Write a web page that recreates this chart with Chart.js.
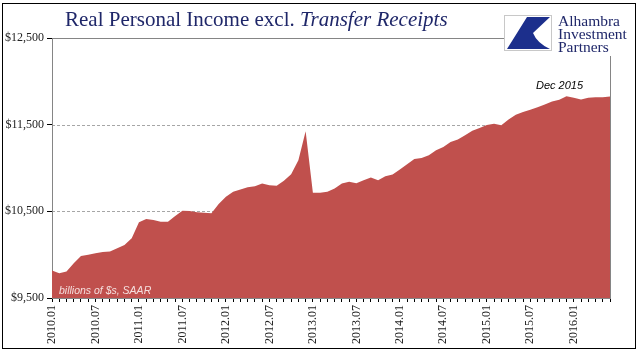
<!DOCTYPE html>
<html lang="en">
<head>
    <meta charset="UTF-8">
    <title>Real Personal Income excl. Transfer Receipts</title>
    <script src="https://cdn.jsdelivr.net/npm/chart.js@4.4.0/dist/chart.umd.min.js"></script>
    <style>
        body { margin: 0; background: #fff; }
        #wrap { position: relative; width: 641px; height: 358px; overflow: hidden; }
        #frame { position: absolute; left: 2px; top: 3px; width: 632px; height: 344px; border: 1.5px solid #000; }
        #title { position: absolute; left: 65px; top: 7px; font: 21px "Liberation Serif", serif; color: #1f2769; white-space: nowrap; }
        #logo { position: absolute; left: 504px; top: 12px; width: 130px; height: 44px; background: #fff; }
        #logo svg { position: absolute; left: 0; top: 3px; }
        #logoText { position: absolute; left: 54px; top: 2px; font: 15.5px/13px "Liberation Serif", serif; color: #1f2769; }
        .note { position: absolute; font-style: italic; font-family: "Liberation Sans", sans-serif; white-space: nowrap; }
        #units { left: 59px; top: 284px; font-size: 10.5px; color: #f4dedd; }
        #dec { left: 536px; top: 79px; font-size: 11px; color: #000; }
    </style>
</head>
<body>
<div id="wrap">
    <canvas id="chart" width="641" height="358"></canvas>
    <div id="frame"></div>
    <div id="title">Real Personal Income excl. <i>Transfer Receipts</i></div>
    <div id="logo">
        <svg width="48" height="36" viewBox="0 0 48 36">
            <rect x="0.5" y="0.5" width="47" height="35" fill="#fff" stroke="#c8c8c8"/>
            <path d="M23 2 L46 2 L29 18 Q33 28 46 34 L3 34 Z" fill="#1c2f8c"/>
        </svg>
        <div id="logoText">Alhambra<br>Investment<br>Partners</div>
    </div>
    <div class="note" id="units">billions of $s, SAAR</div>
    <div class="note" id="dec">Dec 2015</div>
</div>

<script>
    // monthly categories, 2010.01 - 2016.06
    const months = [
        '2010.01','2010.02','2010.03','2010.04','2010.05','2010.06','2010.07','2010.08','2010.09','2010.10','2010.11','2010.12',
        '2011.01','2011.02','2011.03','2011.04','2011.05','2011.06','2011.07','2011.08','2011.09','2011.10','2011.11','2011.12',
        '2012.01','2012.02','2012.03','2012.04','2012.05','2012.06','2012.07','2012.08','2012.09','2012.10','2012.11','2012.12',
        '2013.01','2013.02','2013.03','2013.04','2013.05','2013.06','2013.07','2013.08','2013.09','2013.10','2013.11','2013.12',
        '2014.01','2014.02','2014.03','2014.04','2014.05','2014.06','2014.07','2014.08','2014.09','2014.10','2014.11','2014.12',
        '2015.01','2015.02','2015.03','2015.04','2015.05','2015.06','2015.07','2015.08','2015.09','2015.10','2015.11','2015.12',
        '2016.01','2016.02','2016.03','2016.04','2016.05','2016.06'
    ];

    // billions of $, SAAR
    const income = [
        9817, 9787, 9806, 9900, 9986, 9998, 10017, 10032, 10036, 10075, 10112, 10190,
        10373, 10411, 10400, 10381, 10381, 10446, 10507, 10503, 10488, 10484, 10477, 10584,
        10668, 10725, 10752, 10779, 10790, 10822, 10800, 10796, 10853, 10929, 11090, 11423,
        10714, 10714, 10725, 10764, 10822, 10840, 10825, 10860, 10891, 10860, 10906, 10925,
        10983, 11044, 11105, 11116, 11147, 11205, 11243, 11300, 11328, 11377, 11431, 11461,
        11495, 11511, 11492, 11561, 11615, 11645, 11672, 11702, 11733, 11768, 11787, 11829,
        11810, 11791, 11810, 11817, 11817, 11825
    ];

    const yMin = 9500;
    const yMax = 12500;
    const yStep = 1000;
    const labelEvery = 6;

    // dashed gridlines + grey plot border, drawn under the area
    const plotFrame = {
        id: 'plotFrame',
        beforeDatasetsDraw(chart) {
            const { ctx, chartArea: a, scales: { y } } = chart;
            ctx.save();
            ctx.lineWidth = 1;
            ctx.strokeStyle = '#a6a6a6';
            ctx.setLineDash([3, 2]);
            y.ticks.forEach(t => {
                if (t.value <= yMin || t.value >= yMax) return;
                const py = Math.round(y.getPixelForValue(t.value)) + 0.5;
                ctx.beginPath();
                ctx.moveTo(a.left, py);
                ctx.lineTo(a.right, py);
                ctx.stroke();
            });
            ctx.setLineDash([]);
            ctx.strokeStyle = '#858585';
            ctx.strokeRect(Math.round(a.left) + 0.5, Math.round(a.top) + 0.5, Math.round(a.width), Math.round(a.height));
            ctx.restore();
        }
    };

    const tickFont = { family: '"Liberation Serif", serif', size: 12 };

    new Chart(document.getElementById('chart').getContext('2d'), {
        type: 'line',
        data: {
            labels: months,
            datasets: [{
                data: income,
                fill: 'start',
                backgroundColor: '#c0504d',
                borderWidth: 0,
                pointRadius: 0,
                tension: 0
            }]
        },
        options: {
            responsive: false,
            animation: false,
            layout: { padding: { top: 38, right: 31, left: 0, bottom: 0 } },
            plugins: {
                legend: { display: false },
                tooltip: { enabled: false }
            },
            scales: {
                x: {
                    offset: false,
                    afterFit: s => { s.height = 60; },
                    grid: { drawOnChartArea: false, drawTicks: true, tickLength: 4, tickColor: '#000' },
                    border: { color: '#000', width: 1 },
                    ticks: {
                        autoSkip: false,
                        minRotation: 90,
                        maxRotation: 90,
                        padding: 3,
                        color: '#222',
                        font: tickFont,
                        callback: (v, i) => (i % labelEvery === 0 ? months[i] : '')
                    }
                },
                y: {
                    min: yMin,
                    max: yMax,
                    afterFit: s => { s.width = 52; },
                    grid: { drawOnChartArea: false, drawTicks: true, tickLength: 5, tickColor: '#000' },
                    border: { color: '#000', width: 1 },
                    ticks: {
                        stepSize: yStep,
                        padding: 3,
                        color: '#222',
                        font: tickFont,
                        callback: v => '$' + v.toLocaleString('en-US')
                    }
                }
            }
        },
        plugins: [plotFrame]
    });
</script>
</body>
</html>
